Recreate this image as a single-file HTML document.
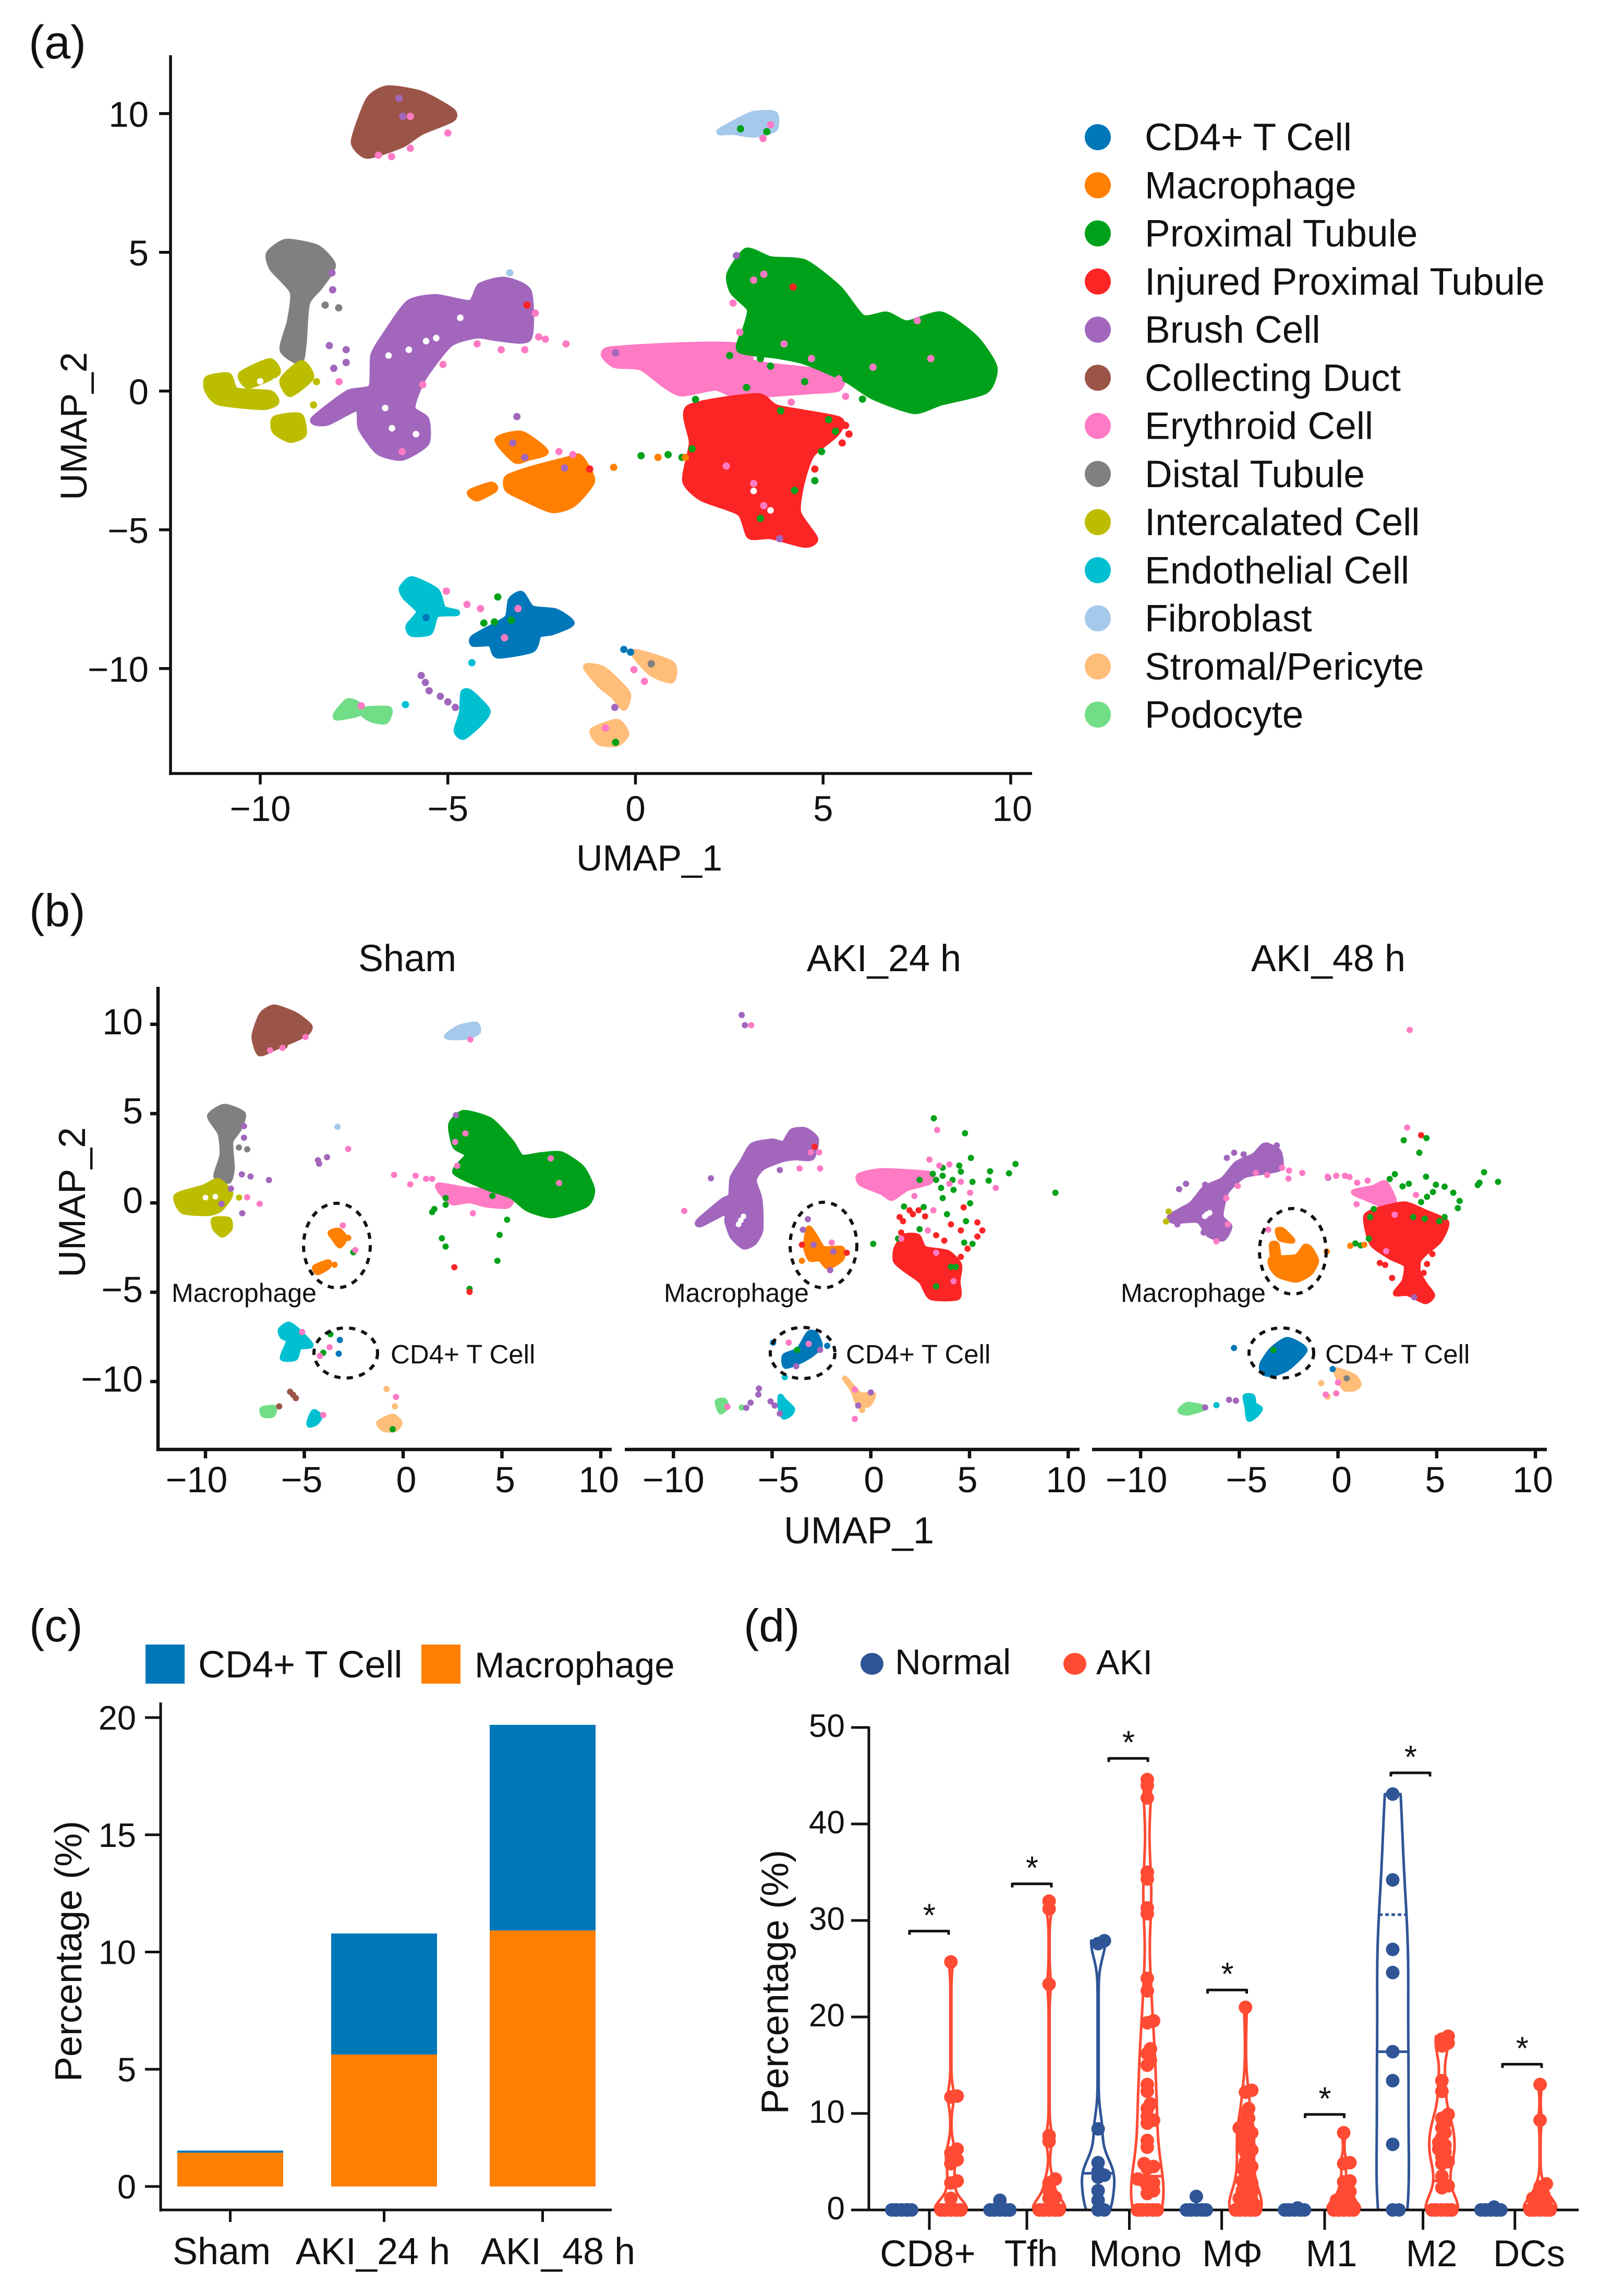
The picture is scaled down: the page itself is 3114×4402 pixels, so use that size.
<!DOCTYPE html>
<html lang="en">
<head>
<meta charset="utf-8">
<title>UMAP clusters and immune cell percentages</title>
<style>
html,body{margin:0;padding:0;background:#fff}
svg{display:block}
text{font-family:"Liberation Sans",sans-serif;fill:#111}
</style>
</head>
<body>
<svg id="figure" xmlns="http://www.w3.org/2000/svg" width="3114" height="4402" viewBox="0 0 3114 4402">
<rect width="3114" height="4402" fill="#fff"/>
<text x="55" y="112" font-size="90">(a)</text>
<text x="56" y="1776" font-size="88">(b)</text>
<text x="56" y="3147" font-size="88">(c)</text>
<text x="1426" y="3147" font-size="88">(d)</text>
<text x="1245" y="1669" font-size="70" text-anchor="middle">UMAP_1</text>
<text transform="translate(166,817) rotate(-90)" font-size="71" text-anchor="middle">UMAP_2</text>
<text x="781" y="1862" font-size="72" text-anchor="middle">Sham</text>
<text x="1695" y="1862" font-size="72" text-anchor="middle">AKI_24 h</text>
<text x="2547" y="1862" font-size="72" text-anchor="middle">AKI_48 h</text>
<text x="1647" y="2959" font-size="72" text-anchor="middle">UMAP_1</text>
<text transform="translate(163,2305) rotate(-90)" font-size="72" text-anchor="middle">UMAP_2</text>
<text transform="translate(156,3741) rotate(-90)" font-size="72" text-anchor="middle">Percentage (%)</text>
<text transform="translate(1511,3800) rotate(-90)" font-size="73" text-anchor="middle">Percentage (%)</text>
<g id="panel-a"></g>
<g id="legend-a"></g>
<g id="panel-b1"></g>
<g id="panel-b2"></g>
<g id="panel-b3"></g>
<g id="annotations" fill="none" stroke="#111" stroke-width="6" stroke-dasharray="12 12">
<ellipse cx="646" cy="2388" rx="64" ry="81"/>
<ellipse cx="663" cy="2594" rx="61" ry="48"/>
<ellipse cx="1579" cy="2387" rx="64" ry="82"/>
<ellipse cx="1539" cy="2594" rx="62" ry="49"/>
<ellipse cx="2479" cy="2399" rx="64" ry="82"/>
<ellipse cx="2457" cy="2594" rx="62" ry="48"/>
</g>
<text x="329" y="2496" font-size="50">Macrophage</text>
<text x="749" y="2614" font-size="51">CD4+ T Cell</text>
<text x="1273" y="2496" font-size="50">Macrophage</text>
<text x="1622" y="2614" font-size="51">CD4+ T Cell</text>
<text x="2149" y="2496" font-size="50">Macrophage</text>
<text x="2541" y="2614" font-size="51">CD4+ T Cell</text>
<g id="panel-c"></g>
<rect x="279" y="3153" width="75" height="75" fill="#0077b9"/>
<text x="380" y="3216" font-size="72">CD4+ T Cell</text>
<rect x="808" y="3153" width="75" height="75" fill="#ff7f00"/>
<text x="910" y="3216" font-size="69">Macrophage</text>
<g id="panel-d"></g>
<ellipse cx="1672" cy="3190" rx="22" ry="21" fill="#2f5597"/>
<text x="1716" y="3210" font-size="69">Normal</text>
<ellipse cx="2061" cy="3190" rx="22" ry="21" fill="#ff4b33"/>
<text x="2102" y="3210" font-size="67">AKI</text>
</svg>
<script>
/* ---------- shared labels ---------- */
const cellTypes = ['CD4+ T Cell','Macrophage','Proximal Tubule','Injured Proximal Tubule','Brush Cell','Collecting Duct','Erythroid Cell','Distal Tubule','Intercalated Cell','Endothelial Cell','Fibroblast','Stromal/Pericyte','Podocyte'];
const umapTicks = [-10,-5,0,5,10];

/* ---------- panel (a) outlines and scattered cells, in UMAP units ---------- */
const aCollecting = [[-7.5,9.0],[-7.1,10.5],[-6.6,10.9],[-5.7,10.7],[-4.9,10.1],[-4.9,9.8],[-5.7,9.35],[-6.2,8.9],[-6.8,8.6],[-7.2,8.5]];
const aFibroblast = [[2.24,9.35],[2.8,9.77],[3.16,9.98],[3.7,9.98],[3.7,9.45],[3.16,9.25],[2.6,9.35]];
const aDistal = [[-9.76,4.95],[-9.31,5.37],[-8.49,5.16],[-8.07,4.53],[-8.4,3.79],[-8.76,3.17],[-8.85,1.7],[-8.95,1.07],[-9.4,1.49],[-9.2,2.54],[-9.13,3.58],[-9.67,4.42]];
const aIntercalated1 = [[-11.4,0.44],[-10.85,0.55],[-10.65,0.02],[-9.75,-0.08],[-9.58,-0.4],[-9.95,-0.57],[-11.1,-0.4],[-11.4,0.02]];
const aIntercalated2 = [[-10.5,0.6],[-9.75,1.07],[-9.55,0.65],[-10.3,0.2]];
const aIntercalated3 = [[-9.4,0.4],[-8.9,1.0],[-8.65,0.5],[-9.2,-0.1]];
const aIntercalated4 = [[-9.6,-1.0],[-8.95,-0.9],[-8.85,-1.55],[-9.2,-1.75],[-9.6,-1.45]];
const aBrush = [[-8.58,-1.03],[-7.67,-0.08],[-7.04,0.13],[-6.98,1.28],[-6.67,2.01],[-6.04,3.17],[-5.31,3.38],[-4.4,3.17],[-4.13,3.79],[-3.49,4.0],[-2.85,3.58],[-2.85,1.91],[-3.67,1.91],[-4.22,2.01],[-4.95,1.7],[-5.67,0.44],[-5.95,-0.61],[-5.58,-1.03],[-5.58,-1.87],[-6.22,-2.39],[-6.85,-2.18],[-7.31,-1.34],[-7.4,-0.61],[-8.22,-1.13]];
const aProximal = [[2.51,4.21],[2.96,5.05],[3.6,4.74],[4.51,4.63],[5.42,3.69],[6.05,2.64],[6.69,2.75],[7.24,2.43],[8.15,2.75],[9.05,1.91],[9.56,0.86],[9.33,0.02],[8.15,-0.4],[7.42,-0.71],[6.33,-0.19],[5.6,0.44],[4.51,1.07],[3.78,1.28],[2.78,1.49],[2.96,2.33],[3.05,2.96],[2.6,3.58]];
const aErythroid1 = [[-0.67,1.49],[2.87,1.59],[2.87,-0.19],[2.15,0.13],[1.24,-0.08],[0.78,0.23],[0.15,0.86],[-0.58,0.96]];
const aErythroid2 = [[2.8,1.0],[3.6,0.9],[5.4,0.6],[5.4,0.1],[4.6,0],[3.6,-0.1],[2.8,-0.2]];
const aInjured = [[1.42,-0.61],[3.24,-0.19],[3.78,-0.61],[5.42,-1.03],[5.33,-1.55],[4.69,-2.29],[4.42,-3.33],[4.33,-4.38],[4.78,-5.32],[4.51,-5.53],[3.6,-5.22],[3.05,-5.22],[2.78,-4.38],[1.78,-3.86],[1.33,-3.23],[1.51,-1.87]];
const aMacrophage1 = [[-3.4,-3.12],[-2.76,-2.81],[-1.85,-2.49],[-1.49,-2.39],[-1.16,-3.23],[-1.67,-4.07],[-2.22,-4.28],[-2.95,-3.86],[-3.4,-3.54]];
const aMacrophage2 = [[-3.67,-1.76],[-3.04,-1.55],[-2.4,-2.18],[-2.85,-2.39],[-3.2,-2.49]];
const aMacrophage3 = [[-4.4,-3.65],[-3.85,-3.38],[-3.76,-3.54],[-4.22,-3.86]];
const aCd4 = [[-4.31,-8.89],[-3.76,-8.47],[-3.4,-8.16],[-3.31,-7.53],[-3.04,-7.32],[-2.76,-7.84],[-2.13,-7.95],[-1.71,-8.36],[-2.22,-8.68],[-2.58,-8.78],[-2.76,-9.31],[-3.67,-9.52],[-3.85,-9.1],[-4.31,-9.1]];
const aEndothelial1 = [[-6.22,-7.11],[-5.95,-6.79],[-5.31,-7.21],[-5.13,-7.84],[-4.76,-7.99],[-5.31,-8.05],[-5.49,-8.68],[-5.95,-8.74],[-6.04,-8.47],[-5.76,-7.95],[-6.13,-7.42]];
const aEndothelial2 = [[-4.58,-10.88],[-4.4,-10.88],[-3.95,-11.51],[-4.13,-11.93],[-4.58,-12.45],[-4.76,-12.24],[-4.62,-11.61]];
const aPodocyte1 = [[-7.95,-11.61],[-7.67,-11.19],[-7.4,-11.3],[-7.4,-11.61],[-7.95,-11.76]];
const aPodocyte2 = [[-7.31,-11.51],[-6.58,-11.47],[-6.67,-11.89],[-7.04,-11.82]];
const aStromal1 = [[-1.31,-9.94],[-0.85,-10.04],[-0.22,-10.88],[-0.31,-11.4],[-0.58,-10.98],[-0.95,-10.57]];
const aStromal2 = [[-0.04,-9.41],[0.96,-9.83],[0.96,-10.42],[0.42,-10.15]];
const aStromal3 = [[-1.13,-12.24],[-0.49,-11.93],[-0.25,-12.35],[-0.49,-12.7],[-0.95,-12.66]];
const aPinkDots = [[-6.85,8.5],[-6.5,8.45],[-6.0,8.75],[-5.0,9.3],[-6.0,9.9],[3.6,9.6],[3.4,9.1],[-7.9,0.34],[-2.58,1.95],[-2.4,1.87],[-1.85,1.7],[-2.67,2.81],[-3.58,1.49],[-4.22,1.7],[-2.95,1.49],[-5.13,0.96],[-5.67,0.23],[-6.22,-2.18],[-2.04,-2.18],[-1.67,-2.29],[-5.04,-7.21],[-4.49,-7.69],[-4.13,-7.84],[-3.49,-8.89],[-3.13,-7.84],[-0.04,-10.04],[0.24,-10.46],[-0.8,-12.14],[-7.31,-11.34],[6.33,0.86],[7.87,1.17],[7.51,2.54],[3.42,4.21],[3.15,4.0],[3.96,1.7],[4.69,1.17],[2.6,3.17],[2.78,2.12],[5.42,0.44],[5.6,-0.19],[4.15,-0.4],[2.42,-2.7],[3.42,-4.13],[3.15,-3.33]];
const aPurpleDots = [[-6.3,10.55],[-6.2,9.9],[-8.09,4.26],[-8.07,3.65],[-8.16,1.64],[-7.71,1.49],[-8.04,0.82],[-7.71,1.03],[2.69,4.88],[-0.53,1.38],[3.84,-5.32],[-3.16,-0.92],[-3.27,-1.87],[-2.95,-2.39],[-1.89,-2.77],[-5.71,-10.25],[-5.5,-10.8],[-5.2,-11.0],[-4.8,-11.4],[-5.6,-10.5],[-5.0,-11.2],[-0.55,-11.4]];
const aGreenDots = [[1.6,-0.3],[1.51,-2.08],[3.87,-0.71],[5.15,-1.03],[5.33,-1.45],[4.96,-2.18],[4.78,-3.23],[4.24,-3.58],[3.33,-4.59],[2.96,0.13],[4.51,0.34],[3.6,0.9],[3.33,1.17],[2.51,1.28],[0.15,-2.33],[0.87,-2.29],[1.24,-2.39],[6.05,-0.29],[-3.67,-7.42],[-4.04,-8.36],[-3.76,-8.32],[-3.31,-8.26],[-0.53,-12.66],[2.8,9.45],[3.5,9.35]];
const aRedDots = [[-2.89,3.1],[-1.22,-2.81],[4.2,3.75],[5.6,-1.24],[5.69,-1.55],[4.78,-2.81],[5.51,-1.87]];
const aOrangeDots = [[-0.58,-2.75],[0.6,-2.39],[1.33,-2.39]];
const aCyanDots = [[-4.36,-9.79],[-6.13,-11.3]];
const aFibroDots = [[-3.35,4.26]];
const aBlueDots = [[-0.31,-9.31],[-5.58,-8.16],[-0.13,-9.41]];
const aGreyDots = [[-8.27,3.1],[-7.91,3.0],[0.42,-9.83]];
const aOliveDots = [[-8.58,-0.5],[-8.5,0.34],[-8.8,0.35]];
const aHoles = [[-6.04,1.49],[-5.58,1.8],[-6.58,1.28],[-6.67,-0.61],[-6.49,-1.34],[-5.85,-1.55],[-4.67,2.64],[-5.31,1.91],[-10.0,0.35],[-9.6,0.35],[3.15,-3.6],[3.6,-4.3]];

/* ---------- panel (b) Sham ---------- */
const shamCollecting = [[-7.53,9.33],[-7.15,10.54],[-6.52,10.95],[-5.47,10.54],[-4.73,9.89],[-4.94,9.46],[-5.89,8.97],[-6.52,8.68],[-7.26,8.37]];
const shamFibroblast = [[2.21,9.33],[2.84,9.82],[3.68,9.99],[3.79,9.58],[3.36,9.33],[2.73,9.26]];
const shamDistal = [[-9.78,4.86],[-9.04,5.39],[-8.1,4.98],[-8.31,4.14],[-8.73,3.41],[-8.66,1.96],[-8.83,1.23],[-9.46,1.48],[-9.15,2.68],[-9.25,3.89]];
const shamIntercalated1 = [[-11.46,0.39],[-10.1,0.87],[-9.36,1.23],[-8.73,0.51],[-9.25,-0.34],[-9.88,-0.58],[-11.15,-0.46]];
const shamIntercalated2 = [[-9.57,-0.94],[-8.83,-0.94],[-8.77,-1.43],[-9.15,-1.79],[-9.51,-1.43]];
const shamProximal = [[2.42,4.38],[3.05,5.05],[4.42,4.62],[5.47,3.41],[5.99,2.56],[6.94,2.68],[7.99,2.73],[9.04,1.96],[9.57,0.75],[9.25,-0.1],[7.57,-0.7],[6.31,-0.34],[5.47,0.39],[4.21,0.87],[2.63,1.72],[3.26,2.68],[2.63,3.17]];
const shamErythroid = [[1.79,0.99],[3.15,0.75],[4.42,0.63],[5.47,0.27],[5.26,-0.17],[4.21,-0.1],[3.36,0.14],[2.52,0.02],[2.0,0.5]];
const shamMacrophage1 = [[-3.68,-1.67],[-3.26,-1.55],[-2.94,-1.96],[-3.2,-2.39],[-3.47,-2.03]];
const shamMacrophage2 = [[-4.46,-3.6],[-3.79,-3.31],[-3.79,-3.56],[-4.31,-3.89]];
const shamEndothelial1 = [[-6.2,-7.11],[-5.78,-6.8],[-5.26,-7.23],[-4.67,-7.96],[-5.26,-8.08],[-5.47,-8.68],[-6.1,-8.68],[-5.78,-7.72],[-6.1,-7.48]];
const shamEndothelial2 = [[-4.52,-11.7],[-4.21,-11.95],[-4.42,-12.31],[-4.73,-12.43],[-4.73,-12.19]];
const shamPodocyte = [[-7.11,-11.54],[-6.52,-11.46],[-6.62,-11.87],[-7.05,-11.87]];
const shamStromal = [[-1.22,-12.31],[-0.53,-11.95],[-0.17,-12.31],[-0.42,-12.67],[-0.95,-12.67]];
const shamPinkDots = [[-6.73,8.54],[-6.1,8.68],[-4.94,9.29],[3.4,9.15],[-0.46,1.57],[0.63,1.52],[0.36,1.04],[1.16,1.35],[1.47,1.35],[3.53,-0.58],[-2.42,-2.64],[-3.05,-1.26],[-2.78,3.02],[-7.89,0.31],[-7.26,-0.05],[7.89,1.11],[2.63,3.41],[2.73,2.08],[3.15,3.89],[-3.72,-8.08],[-5.11,-7.23],[-4.21,-8.56],[-4.04,-11.87],[-0.36,-10.86],[7.47,2.49]];
const shamPurpleDots = [[-4.31,2.39],[-4.25,2.2],[-3.85,2.56],[-8.05,4.3],[-8.05,3.65],[-8.16,1.6],[-7.72,1.48],[-6.79,1.28],[-8.14,-0.58],[-9.19,-0.05],[-8.71,0.8],[2.67,4.91]];
const shamFibroDots = [[-3.32,4.26]];
const shamGreyDots = [[-8.31,3.1],[-7.89,3.0]];
const shamGreenDots = [[1.58,-0.34],[1.47,-0.51],[2.15,0.27],[2.15,-0.1],[5.26,-0.94],[4.88,-1.79],[1.96,-1.98],[2.15,-2.44],[4.77,-3.24],[3.36,-4.81],[4.52,0.39],[-2.52,-2.76],[-3.68,-7.35],[-4.04,-8.39],[-0.53,-12.67]];
const shamRedDots = [[2.59,-3.6],[3.36,-4.98]];
const shamOrangeDots = [[-2.78,-1.96],[-3.47,-3.46]];
const shamBlueDots = [[-3.2,-7.67],[-3.26,-8.44]];
const shamBrownDots = [[-6.27,-11.39],[-5.72,-10.57],[-5.57,-10.74],[-5.43,-10.93],[-6.5,8.9],[-6.0,8.8]];
const shamOliveDots = [[-8.3,0.3]];
const shamStromalDots = [[-0.84,-10.42],[-0.42,-11.39]];
const shamHoles = [[-10.0,0.3],[-9.5,0.35]];

/* ---------- panel (b) AKI 24 h ---------- */
const d24Brush = [[-8.72,-1.02],[-7.52,0.11],[-7.1,0.39],[-7.01,1.41],[-6.51,2.31],[-6.0,3.22],[-5.0,3.45],[-4.41,3.33],[-3.99,4.01],[-3.32,4.08],[-2.77,3.56],[-2.99,2.54],[-3.83,2.54],[-4.5,2.43],[-5.5,1.97],[-5.92,1.29],[-5.67,0.39],[-5.59,-0.29],[-5.59,-1.54],[-5.92,-2.22],[-6.43,-2.45],[-7.01,-1.88],[-7.27,-1.09],[-7.35,-0.52],[-8.61,-1.2]];
const d24Erythroid = [[-0.59,1.52],[0.54,1.79],[2.97,1.63],[2.97,1.18],[1.88,0.84],[1.54,0.61],[1.04,0.27],[0.54,0.61],[-0.47,1.07]];
const d24Injured = [[1.29,-2.56],[1.71,-1.88],[2.38,-1.88],[2.72,-2.56],[3.89,-2.79],[4.48,-3.47],[4.4,-4.38],[4.4,-5.28],[3.05,-5.28],[2.55,-4.38],[1.71,-3.7],[1.26,-3.24]];
const d24Macrophage = [[-3.15,-1.43],[-2.82,-1.88],[-2.4,-2.56],[-1.48,-2.56],[-1.48,-3.11],[-2.15,-3.58],[-2.57,-3.13],[-3.07,-3.13],[-3.29,-2.45]];
const d24Cd4 = [[-4.36,-8.57],[-3.66,-8.23],[-3.15,-7.32],[-2.82,-7.32],[-2.57,-8.0],[-2.99,-8.46],[-3.49,-8.8],[-4.3,-9.14]];
const d24Endothelial = [[-4.58,-10.84],[-4.41,-11.07],[-3.99,-11.52],[-4.08,-11.79],[-4.41,-11.97],[-4.58,-11.41]];
const d24Podocyte = [[-7.77,-11.13],[-7.43,-11.07],[-7.32,-11.41],[-7.6,-11.68]];
const d24Stromal = [[-1.31,-9.82],[-0.55,-10.73],[0.12,-10.73],[-0.13,-11.29],[-0.64,-11.22],[-0.89,-10.5]];
const d24RedDots = [[-2.85,3.15],[1.46,-0.79],[1.63,-1.02],[1.54,-1.66],[1.96,-0.41],[2.13,-0.63],[2.75,-0.75],[2.42,-0.41],[4.06,-1.2],[4.56,-1.54],[4.7,-0.25],[5.4,-1.09],[5.65,-1.54],[5.4,-1.88],[3.31,-1.81],[3.72,-2.11],[4.9,-2.56],[4.56,-3.02],[-1.22,-2.79],[-3.49,-2.34]];
const d24GreenDots = [[3.19,4.74],[4.77,3.9],[5.07,2.52],[7.33,2.18],[7.0,1.66],[6.04,1.77],[5.97,1.25],[5.15,1.18],[9.35,0.57],[4.48,2.09],[4.56,1.75],[3.64,1.97],[3.14,1.63],[3.31,1.29],[3.64,1.52],[4.14,1.29],[4.19,0.73],[3.56,0.84],[3.64,0.27],[5.03,-0.02],[3.86,-0.63],[4.82,-1.02],[4.73,-2.22],[5.15,-2.29],[4.06,-3.58],[4.31,-3.58],[1.68,-0.2],[2.68,-0.23],[2.47,-1.47],[1.38,-2.0],[0.12,-2.29],[3.31,-4.67],[2.47,1.29],[-3.74,-8.23]];
const d24PinkDots = [[-6.06,9.95],[3.36,4.08],[2.97,2.43],[3.47,2.09],[3.98,2.15],[6.33,0.84],[5.03,0.57],[4.56,1.18],[3.98,1.07],[3.17,-0.41],[2.89,-1.54],[2.21,0.39],[1.54,-2],[4.19,-4.38],[3.31,-2.79],[-9.45,-0.45],[-3.61,1.93],[-2.57,1.93],[-2.62,2.83],[-3.04,2.83],[-1.98,-2.22],[-4.16,-7.82],[-3.15,-7.89],[-0.81,-12.09],[-0.81,-10.45],[-7.27,-11.41]];
const d24PurpleDots = [[-6.54,10.52],[-6.38,9.95],[-8.1,1.38],[-4.61,1.84],[-7.27,-1.02],[-3.19,-0.91],[-3.44,-1.5],[-2.9,-2.34],[-1.9,-2.72],[-2.06,-3.76],[-2.57,-8.23],[-3.78,-9.14],[0,-10.61],[-0.64,-11.34],[-5.67,-10.39],[-5.7,-10.73],[-6.09,-11.18],[-6.31,-11.47],[-5.08,-11.11],[-4.87,-11.34],[-4.61,-11.79]];
const d24OrangeDots = [[-3.49,-3.24]];
const d24BlueDots = [[-4.95,-7.82],[-2.21,-8.0]];
const d24CyanDots = [[-4.36,-9.75]];
const d24PodocyteDots = [[-6.54,-11.45]];
const d24StromalDots = [[-0.44,-11.59]];
const d24Holes = [[-6.59,-0.98],[-6.45,-0.75],[-6.7,-1.2]];

/* ---------- panel (b) AKI 48 h ---------- */
const d48Brush = [[-8.5,-0.75],[-7.43,-0.07],[-6.73,0.84],[-5.84,1.29],[-5.13,2.2],[-4.25,2.65],[-3.72,3.22],[-3.01,2.88],[-2.92,1.97],[-3.72,1.75],[-4.78,1.52],[-5.66,0.61],[-5.93,-0.75],[-5.49,-1.32],[-5.84,-2.0],[-6.55,-1.77],[-7.08,-0.98],[-8.32,-1.02]];
const d48Erythroid = [[0.8,0.61],[1.77,0.84],[2.39,1.11],[2.83,0.16],[2.74,-0.41],[2.12,-0.07],[1.42,0.27]];
const d48Injured = [[1.42,-0.75],[1.95,-0.41],[3.36,-0.07],[4.42,-0.52],[5.49,-1.09],[5.13,-2.11],[4.42,-2.79],[4.07,-3.24],[4.07,-3.92],[4.42,-4.6],[4.78,-5.17],[4.42,-5.51],[3.54,-5.06],[2.92,-5.06],[3.36,-4.38],[3.45,-3.47],[2.65,-3.02],[1.77,-2.34],[1.5,-1.54]];
const d48Macrophage1 = [[-3.36,-3.13],[-2.12,-3.02],[-1.68,-2.45],[-1.42,-2.56],[-1.1,-3.24],[-1.42,-3.92],[-2.12,-4.31],[-3.01,-4.04],[-3.36,-3.58]];
const d48Macrophage2 = [[-3.36,-2.34],[-3.1,-2.34],[-3.01,-3.24],[-3.27,-3.24]];
const d48Macrophage3 = [[-3.06,-1.54],[-2.8,-1.54],[-2.3,-2.11],[-2.92,-2.0]];
const d48Cd4 = [[-3.84,-9.02],[-3.36,-8.23],[-2.57,-7.66],[-1.68,-8.23],[-2.57,-9.25],[-3.36,-9.59],[-3.81,-9.48]];
const d48Stromal = [[-0.09,-9.36],[0.8,-9.71],[1.06,-10.16],[0.8,-10.39],[0.35,-10.39],[0.09,-9.93]];
const d48Endothelial = [[-4.69,-10.84],[-4.34,-10.84],[-4.25,-11.29],[-3.95,-11.52],[-4.16,-11.86],[-4.51,-12.09],[-4.6,-11.41]];
const d48Podocyte = [[-8.0,-11.63],[-7.61,-11.29],[-6.81,-11.47],[-7.61,-11.75]];
const d48PurpleDots = [[-8.05,0.77],[-7.7,1.07],[-6.73,1.02],[-5.63,2.52],[-5.26,2.81],[-4.78,2.72],[-3.1,3.22],[-3.58,3.22],[-7.26,-0.91],[-8.14,-1.2],[-6.81,-1.66],[-0.5,1.41],[3.86,-5.28],[-6.73,-11.45],[-5.52,-11.02],[-5.17,-11.07]];
const d48OliveDots = [[-8.58,-0.48],[-8.71,-1.04]];
const d48PinkDots = [[3.63,9.68],[3.5,4.22],[-2.83,1.97],[-2.48,1.81],[-1.81,1.68],[-2.51,1.36],[-3.59,1.56],[-4.16,1.68],[-5.08,0.95],[-5.66,0.27],[-6.16,-2.15],[-5.58,-1.2],[-3.54,-1.5],[3.95,0.45],[0.94,-0.07],[-0.53,1.47],[-0.09,1.52],[0.35,1.52],[0.58,1.45],[0.97,1.13],[1.5,1.25],[2.87,-0.66],[2.44,-2.7],[-0.62,-10.73],[-0.09,-10.66],[0,-10.05]];
const d48RedDots = [[4.21,3.79],[2.12,-3.36],[2.39,-3.47],[2.74,-4.2],[4.78,-2.86],[4.51,-3.42],[4.34,-3.92]];
const d48GreenDots = [[3.33,3.51],[4.48,3.63],[4.12,2.81],[4.46,1.47],[7.4,1.72],[8.11,1.18],[7.17,1.13],[7.08,1.0],[4.96,1.02],[5.4,0.91],[4.81,0.61],[5.84,0.57],[6.16,0.11],[6.07,-0.29],[4.51,0.34],[4.21,0.05],[2.88,1.61],[2.62,1.34],[3.27,0.93],[3.59,1.07],[5.4,-0.79],[5.13,-1.02],[4.39,-0.88],[3.81,-0.79],[1.81,-0.34],[1.63,-0.79],[1.56,-2.0],[0.88,-2.27],[1.15,-2.38],[-3.27,-8.23]];
const d48OrangeDots = [[-0.57,-2.72],[0.62,-2.4],[1.33,-2.34]];
const d48BlueDots = [[-5.27,-8.12],[-0.27,-9.3]];
const d48StromalDots = [[-0.85,-10.09],[-0.53,-10.84]];
const d48GreyDots = [[0.44,-9.82]];
const d48CyanDots = [[-6.16,-11.32]];
const d48Holes = [[-6.64,-0.63],[-6.5,-0.55],[-6.75,-0.75]];

/* ---------- panel (c) ---------- */
const barCategories = ['Sham','AKI_24 h','AKI_48 h'];
const macrophagePercent = [1.44,5.63,10.92];
const cd4Percent = [0.09,5.16,8.77];
const barTicks = [0,5,10,15,20];

/* ---------- panel (d) ---------- */
const violinGroups = ['CD8+','Tfh','Mono','MΦ','M1','M2','DCs'];
const violinTicks = [0,10,20,30,40,50];
const normalCd8 = [0,0,0,0,0,0,0,0,0];
const akiCd8 = [25.7,11.8,11.7,6.3,5.9,5.2,4.8,3,2.8,1.2,0,0,0,0,0,0,0,0,0,0,0,0];
const normalTfh = [1.0,0,0,0,0,0,0,0,0,0,0];
const akiTfh = [32,31.2,23.4,7.7,7.1,3.2,2.8,2,1.3,1.2,0,0,0,0,0,0,0,0,0,0,0,0];
const normalMono = [27.9,27.6,8.4,4.9,4.0,3.6,3.4,2,1,0,0];
const akiMono = [44.6,44,42.7,35,34.3,31.3,30.7,24,22.7,19.6,19.4,16.7,16.2,15.5,15,13,12.3,11,10.5,9.7,9.3,9,7.2,6.5,4.8,4.5,4.3,3.2,3,2.8,2.5,2,1.7,0,0,0,0,0,0,0,0];
const normalMac = [1.4,0,0,0,0,0,0,0,0];
const akiMac = [21,12.4,12.2,10.5,10,9.5,9,8.5,8.2,8,7.7,7.5,7,6.5,6.2,6,5.5,5,4.5,4.3,4,3.5,3,2.8,2.5,2,1.8,1.5,1.2,1,0.8,0.5,0,0,0,0,0,0,0,0,0,0,0,0,0,0];
const normalM1 = [0.2,0,0,0,0,0,0,0,0];
const akiM1 = [8,4.9,4.8,3,2.9,1.9,1.8,1.2,1,0.9,0.8,0.9,0,0,0,0,0,0,0,0,0,0,0,0];
const normalM2 = [43.1,34.2,27,24.6,16.4,13.4,6.8,0,0];
const akiM2 = [18,17.7,17.3,17,13.4,12.3,9.9,9.5,9,8.5,8,7.5,7,6.7,6.3,6,5.5,5,4.8,3.5,2.5,2.3,0,0,0,0,0,0,0,0,0,0];
const normalDc = [0.3,0,0,0,0,0,0,0,0];
const akiDc = [13,9.3,2.7,2.4,1.6,1.5,1.3,1.2,1,0.9,0.5,0,0,0,0,0,0,0,0,0,0,0,0];
const normalSeries = [normalCd8,normalTfh,normalMono,normalMac,normalM1,normalM2,normalDc];
const akiSeries = [akiCd8,akiTfh,akiMono,akiMac,akiM1,akiM2,akiDc];
const normalBandwidth = [1,1,1.6,1,1,6,1];
const akiBandwidth = [1,1,3,1.6,0.7,1.5,0.8];
const normalMedians = [0,0,3.8,0,0,16.4,0];
const normalUpperQuartiles = [0,0,0,0,0,30.6,0];
const akiMedians = [0,0,3.5,0,0,3,0];
const akiUpperQuartiles = [0,0,19.3,0,0,0,0];
const bracketHeights = [28.9,33.8,46.8,22.8,9.9,45.3,15.1];

/* ---------- colours ---------- */
const C = {cd4:'#0077b9',mac:'#ff7f00',prox:'#00a11a',inj:'#fb2526',brush:'#a267bd',coll:'#9b5548',ery:'#ff7ac4',dist:'#808080',inter:'#bdbd00',endo:'#00bfd1',fib:'#a5c9eb',strom:'#ffbd7a',podo:'#72dd87'};
const legendColors = [C.cd4,C.mac,C.prox,C.inj,C.brush,C.coll,C.ery,C.dist,C.inter,C.endo,C.fib,C.strom,C.podo];
const INK = '#111';
const SVGNS = 'http://www.w3.org/2000/svg';

/* ---------- axis functions ---------- */
const linear = (origin,scale) => v => origin + scale*v;
const axisA = {x:linear(1218.5,71.95), y:linear(749.8,-53.2)};
const axisSham = {x:linear(773,37.9), y:linear(2306.3,-34.25)};
const axis24 = {x:linear(1669.8,37.85), y:linear(2306.3,-34.25)};
const axis48 = {x:linear(2565.6,37.85), y:linear(2306.3,-34.25)};
const barY = linear(4192,-44.95);
const barX = i => [441.5,736.5,1040.5][i];
const violinY = linear(4237,-18.5);
const violinX = (group,side) => 1729 + group*188.3 + side*94.3;
const tickText = v => v<0 ? '\u2212'+(-v) : String(v);

/* ---------- primitives ---------- */
function line(parent,x1,y1,x2,y2,width,color,name){
  const el=document.createElementNS(SVGNS,'line');
  
  
  el.setAttribute('x1',x1);el.setAttribute('y1',y1);el.setAttribute('x2',x2);el.setAttribute('y2',y2);
  el.setAttribute('stroke',color);el.setAttribute('stroke-width',width);
  parent.appendChild(el);
  return el;
}
function label(parent,x,y,size,anchor,content,name){
  const el=document.createElementNS(SVGNS,'text');
  
  
  el.setAttribute('x',x);el.setAttribute('y',y);el.setAttribute('font-size',size);el.setAttribute('text-anchor',anchor);
  el.textContent=content;
  parent.appendChild(el);
  return el;
}
function circle(parent,x,y,r,color,name){
  const el=document.createElementNS(SVGNS,'circle');
  
  
  el.setAttribute('cx',x);el.setAttribute('cy',y);el.setAttribute('r',r);el.setAttribute('fill',color);
  parent.appendChild(el);
  return el;
}
function smoothPath(pts){
  const n=pts.length,k=1/9;
  let d='M'+pts[0][0].toFixed(1)+' '+pts[0][1].toFixed(1);
  for(let i=0;i<n;i++){
    const p0=pts[(i-1+n)%n],p1=pts[i],p2=pts[(i+1)%n],p3=pts[(i+2)%n];
    const c1=[p1[0]+(p2[0]-p0[0])*k,p1[1]+(p2[1]-p0[1])*k];
    const c2=[p2[0]-(p3[0]-p1[0])*k,p2[1]-(p3[1]-p1[1])*k];
    d+='C'+c1[0].toFixed(1)+' '+c1[1].toFixed(1)+' '+c2[0].toFixed(1)+' '+c2[1].toFixed(1)+' '+p2[0].toFixed(1)+' '+p2[1].toFixed(1);
  }
  return d+'Z';
}
function blob(parent,axis,pts,color,r,name){
  const el=document.createElementNS(SVGNS,'path');
  
  
  el.setAttribute('d',smoothPath(pts.map(p=>[axis.x(p[0]),axis.y(p[1])])));
  el.setAttribute('fill',color);el.setAttribute('stroke',color);el.setAttribute('stroke-width',r*1.8);el.setAttribute('stroke-linejoin','round');
  parent.appendChild(el);
}
function scatter(parent,axis,pts,color,r,name){
  pts.forEach(p=>circle(parent,axis.x(p[0]),axis.y(p[1]),r,color,name));
}

/* ---------- UMAP panels ---------- */
function drawUmap(gid,axis,blobs,dots,holes,r){
  const g=document.getElementById(gid);
  blobs.forEach(b=>blob(g,axis,b[0],b[1],r,b[2]));
  scatter(g,axis,holes,'#fff',r*0.9,'cluster-gap');
  dots.forEach(d=>scatter(g,axis,d[0],d[1],r,d[2]));
}
drawUmap('panel-a',axisA,[
  [aErythroid1,C.ery,'erythroid-cluster'],[aErythroid2,C.ery,'erythroid-band'],[aProximal,C.prox,'proximal-tubule-cluster'],[aInjured,C.inj,'injured-proximal-cluster'],
  [aCollecting,C.coll,'collecting-duct-cluster'],[aFibroblast,C.fib,'fibroblast-cluster'],[aDistal,C.dist,'distal-tubule-cluster'],
  [aIntercalated1,C.inter,'intercalated-cluster'],[aIntercalated2,C.inter,'intercalated-cluster'],[aIntercalated3,C.inter,'intercalated-cluster'],[aIntercalated4,C.inter,'intercalated-cluster'],
  [aBrush,C.brush,'brush-cell-cluster'],[aMacrophage1,C.mac,'macrophage-cluster'],[aMacrophage2,C.mac,'macrophage-cluster'],[aMacrophage3,C.mac,'macrophage-cluster'],
  [aCd4,C.cd4,'cd4-cluster'],[aEndothelial1,C.endo,'endothelial-cluster'],[aEndothelial2,C.endo,'endothelial-cluster'],
  [aPodocyte1,C.podo,'podocyte-cluster'],[aPodocyte2,C.podo,'podocyte-cluster'],[aStromal1,C.strom,'stromal-cluster'],[aStromal2,C.strom,'stromal-cluster'],[aStromal3,C.strom,'stromal-cluster']
],[
  [aGreenDots,C.prox,'proximal-cell'],[aRedDots,C.inj,'injured-cell'],[aOrangeDots,C.mac,'macrophage-cell'],[aCyanDots,C.endo,'endothelial-cell'],[aFibroDots,C.fib,'fibroblast-cell'],
  [aBlueDots,C.cd4,'cd4-cell'],[aGreyDots,C.dist,'distal-cell'],[aOliveDots,C.inter,'intercalated-cell'],[aPurpleDots,C.brush,'brush-cell'],[aPinkDots,C.ery,'erythroid-cell']
],aHoles,7);

drawUmap('panel-b1',axisSham,[
  [shamErythroid,C.ery,'erythroid-cluster'],[shamProximal,C.prox,'proximal-tubule-cluster'],[shamCollecting,C.coll,'collecting-duct-cluster'],[shamFibroblast,C.fib,'fibroblast-cluster'],
  [shamDistal,C.dist,'distal-tubule-cluster'],[shamIntercalated1,C.inter,'intercalated-cluster'],[shamIntercalated2,C.inter,'intercalated-cluster'],
  [shamMacrophage1,C.mac,'macrophage-cluster'],[shamMacrophage2,C.mac,'macrophage-cluster'],[shamEndothelial1,C.endo,'endothelial-cluster'],[shamEndothelial2,C.endo,'endothelial-cluster'],
  [shamPodocyte,C.podo,'podocyte-cluster'],[shamStromal,C.strom,'stromal-cluster']
],[
  [shamGreenDots,C.prox,'proximal-cell'],[shamRedDots,C.inj,'injured-cell'],[shamOrangeDots,C.mac,'macrophage-cell'],[shamBlueDots,C.cd4,'cd4-cell'],[shamBrownDots,C.coll,'collecting-cell'],
  [shamOliveDots,C.inter,'intercalated-cell'],[shamStromalDots,C.strom,'stromal-cell'],[shamFibroDots,C.fib,'fibroblast-cell'],[shamGreyDots,C.dist,'distal-cell'],[shamPurpleDots,C.brush,'brush-cell'],[shamPinkDots,C.ery,'erythroid-cell']
],shamHoles,6);

drawUmap('panel-b2',axis24,[
  [d24Erythroid,C.ery,'erythroid-cluster'],[d24Injured,C.inj,'injured-proximal-cluster'],[d24Brush,C.brush,'brush-cell-cluster'],[d24Macrophage,C.mac,'macrophage-cluster'],
  [d24Cd4,C.cd4,'cd4-cluster'],[d24Endothelial,C.endo,'endothelial-cluster'],[d24Podocyte,C.podo,'podocyte-cluster'],[d24Stromal,C.strom,'stromal-cluster']
],[
  [d24RedDots,C.inj,'injured-cell'],[d24GreenDots,C.prox,'proximal-cell'],[d24OrangeDots,C.mac,'macrophage-cell'],[d24BlueDots,C.cd4,'cd4-cell'],[d24CyanDots,C.endo,'endothelial-cell'],
  [d24PodocyteDots,C.podo,'podocyte-cell'],[d24StromalDots,C.strom,'stromal-cell'],[d24PurpleDots,C.brush,'brush-cell'],[d24PinkDots,C.ery,'erythroid-cell']
],d24Holes,6);

drawUmap('panel-b3',axis48,[
  [d48Erythroid,C.ery,'erythroid-cluster'],[d48Injured,C.inj,'injured-proximal-cluster'],[d48Brush,C.brush,'brush-cell-cluster'],[d48Macrophage1,C.mac,'macrophage-cluster'],[d48Macrophage2,C.mac,'macrophage-cluster'],[d48Macrophage3,C.mac,'macrophage-cluster'],
  [d48Cd4,C.cd4,'cd4-cluster'],[d48Stromal,C.strom,'stromal-cluster'],[d48Endothelial,C.endo,'endothelial-cluster'],[d48Podocyte,C.podo,'podocyte-cluster']
],[
  [d48RedDots,C.inj,'injured-cell'],[d48GreenDots,C.prox,'proximal-cell'],[d48OrangeDots,C.mac,'macrophage-cell'],[d48BlueDots,C.cd4,'cd4-cell'],[d48StromalDots,C.strom,'stromal-cell'],
  [d48GreyDots,C.dist,'distal-cell'],[d48CyanDots,C.endo,'endothelial-cell'],[d48OliveDots,C.inter,'intercalated-cell'],[d48PurpleDots,C.brush,'brush-cell'],[d48PinkDots,C.ery,'erythroid-cell']
],d48Holes,6);

/* ---------- UMAP axes ---------- */
function drawXAxis(g,axis,x0,x1,y0,tickLen,fontSize,baseline,offsets,width){
  line(g,x0,y0,x1,y0,width,INK,'x-axis-line');
  umapTicks.forEach((v,i)=>{
    line(g,axis.x(v),y0,axis.x(v),y0+tickLen,width,INK,'x-axis-tick');
    label(g,axis.x(v)+offsets[i],baseline,fontSize,'middle',tickText(v),'x-axis-tick-label');
  });
}
function drawYAxis(g,axis,x0,y0,y1,tickLen,fontSize,textRight,shift,width){
  line(g,x0,y0,x0,y1,width,INK,'y-axis-line');
  umapTicks.forEach(v=>{
    line(g,x0-tickLen,axis.y(v),x0,axis.y(v),width,INK,'y-axis-tick');
    label(g,textRight,axis.y(v)+shift,fontSize,'end',tickText(v),'y-axis-tick-label');
  });
}
const gA=document.getElementById('panel-a');
drawXAxis(gA,axisA,324,1979,1483,21,69,1574,[0,0,0,0,3],5.5);
drawYAxis(gA,axisA,327,106,1486,22,69,285,25,5.5);
const gB1=document.getElementById('panel-b1');
drawXAxis(gB1,axisSham,300,1173,2779,17,70,2861,[-17,-5,6,6,-4],6.5);
drawYAxis(gB1,axisSham,303,1892,2782,15,70,274,19,6.5);
const gB2=document.getElementById('panel-b2');
drawXAxis(gB2,axis24,1198,2070,2779,17,70,2861,[0,12,6,-4,-4],6.5);
const gB3=document.getElementById('panel-b3');
drawXAxis(gB3,axis48,2094,2966,2779,17,70,2861,[-8,14,7,-3,-5],6.5);

/* ---------- legend for (a) ---------- */
const gL=document.getElementById('legend-a');
cellTypes.forEach((name,i)=>{
  const y=263+92.25*i;
  circle(gL,2105,y,25,legendColors[i],'legend-marker');
  label(gL,2195,y+25,73,'start',name,'legend-entry');
});

/* ---------- panel (c) stacked bars ---------- */
const gC=document.getElementById('panel-c');
function bar(parent,cx,bottom,top,color,name){
  const el=document.createElementNS(SVGNS,'rect');
  
  
  el.setAttribute('x',cx-101.5);el.setAttribute('width',203);
  el.setAttribute('y',barY(top));el.setAttribute('height',barY(bottom)-barY(top));
  el.setAttribute('fill',color);
  parent.appendChild(el);
}
barCategories.forEach((cat,i)=>{
  bar(gC,barX(i),0,macrophagePercent[i],C.mac,'bar-macrophage');
  bar(gC,barX(i),macrophagePercent[i],macrophagePercent[i]+cd4Percent[i],C.cd4,'bar-cd4');
  line(gC,barX(i),4237,barX(i),4260,5,INK,'x-axis-tick');
  label(gC,[425,715,1070][i],4341,72,'middle',cat,'x-axis-tick-label');
});
line(gC,308,3264,308,4240,5,INK,'y-axis-line');
line(gC,306,4237,1173,4237,5,INK,'x-axis-line');
barTicks.forEach(v=>{
  line(gC,278,barY(v),308,barY(v),5,INK,'y-axis-tick');
  label(gC,261,barY(v)+23,65,'end',String(v),'y-axis-tick-label');
});

/* ---------- panel (d) violins ---------- */
const gD=document.getElementById('panel-d');
function violin(parent,values,group,side,color,bw,name){
  const cx=violinX(group,side);
  const hi=Math.max.apply(null,values);
  if(hi<=2) return;
  const dens=v=>values.reduce((s,d)=>s+Math.exp(-0.5*Math.pow((v-d)/bw,2)),0);
  const steps=80,samples=[];
  for(let i=0;i<=steps;i++) samples.push(hi*i/steps);
  const peak=Math.max.apply(null,samples.map(dens));
  const half=v=>1+30*dens(v)/peak;
  const right=samples.map(v=>(cx+half(v)).toFixed(1)+','+violinY(v).toFixed(1));
  const left=samples.slice().reverse().map(v=>(cx-half(v)).toFixed(1)+','+violinY(v).toFixed(1));
  const el=document.createElementNS(SVGNS,'polygon');
  
  
  el.setAttribute('points',right.concat(left).join(' '));
  el.setAttribute('fill','none');el.setAttribute('stroke',color);el.setAttribute('stroke-width',5);el.setAttribute('stroke-linejoin','round');
  parent.appendChild(el);
  return half;
}
function swarm(parent,values,group,side,color,spread,name){
  const cx=violinX(group,side),placed=[];
  const sorted=values.slice().sort((a,b)=>a-b);
  sorted.forEach((v,i)=>{
    const y=violinY(v);
    const maxOff=v===0?19:spread;
    let off=null;
    for(let k=0;k<=8&&off===null;k++){
      [k*6,-k*6].forEach(c=>{
        if(off===null&&Math.abs(c)<=maxOff&&placed.every(p=>Math.hypot(p[0]-c,p[1]-y)>=10)) off=c;
      });
    }
    if(off===null) off=((i%5)-2)*maxOff/2;
    placed.push([off,y]);
    circle(parent,cx+off,y,13,color,name);
  });
}
violinGroups.forEach((groupName,g)=>{
  const hN=violin(gD,normalSeries[g],g,0,'#2f5597',normalBandwidth[g],'violin-normal');
  const hA=violin(gD,akiSeries[g],g,1,'#ff4b33',akiBandwidth[g],'violin-aki');
  if(hN&&normalMedians[g]){
    line(gD,violinX(g,0)-hN(normalMedians[g]),violinY(normalMedians[g]),violinX(g,0)+hN(normalMedians[g]),violinY(normalMedians[g]),5,'#2f5597','violin-median');
  }
  if(hN&&normalUpperQuartiles[g]){
    line(gD,violinX(g,0)-hN(normalUpperQuartiles[g]),violinY(normalUpperQuartiles[g]),violinX(g,0)+hN(normalUpperQuartiles[g]),violinY(normalUpperQuartiles[g]),5,'#2f5597','violin-quartile').setAttribute('stroke-dasharray','7 5');
  }
  if(hA&&akiMedians[g]){
    line(gD,violinX(g,1)-hA(akiMedians[g]),violinY(akiMedians[g]),violinX(g,1)+hA(akiMedians[g]),violinY(akiMedians[g]),5,'#ff4b33','violin-median');
  }
  if(hA&&akiUpperQuartiles[g]){
    line(gD,violinX(g,1)-hA(akiUpperQuartiles[g]),violinY(akiUpperQuartiles[g]),violinX(g,1)+hA(akiUpperQuartiles[g]),violinY(akiUpperQuartiles[g]),5,'#ff4b33','violin-quartile');
  }
  line(gD,[1782,1969,2165.5,2342.6,2540,2728.6,2904.8][g],4237,[1782,1969,2165.5,2342.6,2540,2728.6,2904.8][g],4275,5,INK,'x-axis-tick');
  label(gD,[1779,1977,2177,2363,2553,2745,2932][g],4345,71,'middle',groupName,'x-axis-tick-label');
  const bx=[1744,1941,2126,2315.5,2502.5,2667,2881][g];
  const by=violinY(bracketHeights[g]);
  line(gD,bx,by,bx+75,by,5,INK,'significance-bracket');
  line(gD,bx,by-2,bx,by+7,5,INK,'significance-bracket-end');
  line(gD,bx+75,by-2,bx+75,by+7,5,INK,'significance-bracket-end');
  label(gD,bx+38,by-9,62,'middle','*','significance-star');
});
line(gD,1666,3310,1666,4239,5,INK,'y-axis-line');
line(gD,1632,4237,3027,4237,5,INK,'x-axis-line');
violinTicks.forEach(v=>{
  line(gD,1632,violinY(v),1666,violinY(v),5,INK,'y-axis-tick');
  label(gD,1620,violinY(v)+18,62,'end',String(v),'y-axis-tick-label');
});
violinGroups.forEach((groupName,g)=>{
  swarm(gD,normalSeries[g],g,0,'#2f5597',12,'point-normal');
  swarm(gD,akiSeries[g],g,1,'#ff4b33',[12,12,19,18,14,12,14][g],'point-aki');
});
</script>
</body>
</html>
